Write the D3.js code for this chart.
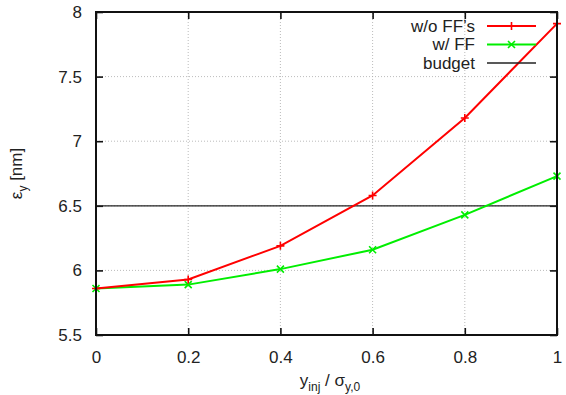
<!DOCTYPE html>
<html>
<head>
<meta charset="utf-8">
<script src="https://cdn.jsdelivr.net/npm/d3@7"></script>
<style>
  body { margin: 0; background: #fff; }
  svg text { font-family: "Liberation Sans", Arial, sans-serif; fill: #222; }
</style>
</head>
<body>
<div id="chart"></div>
<script>
// data
const xValues = [0, 0.2, 0.4, 0.6, 0.8, 1];
const withoutFF = [5.86, 5.93, 6.19, 6.58, 7.18, 7.91];
const withFF = [5.86, 5.89, 6.01, 6.16, 6.43, 6.73];
const budget = 6.5;
const xTicks = [0, 0.2, 0.4, 0.6, 0.8, 1];
const yTicks = [5.5, 6, 6.5, 7, 7.5, 8];

const width = 566, height = 395;
const margin = { left: 96, right: 9, top: 12, bottom: 60 };

const svg = d3.select("#chart").append("svg")
  .attr("width", width)
  .attr("height", height);

const x = d3.scaleLinear().domain([0, 1]).range([margin.left, width - margin.right]);
const y = d3.scaleLinear().domain([5.5, 8]).range([height - margin.bottom, margin.top]);

// grid
svg.append("g").selectAll("line.gx").data(xTicks.slice(1, -1)).enter()
  .append("line")
  .attr("x1", d => x(d)).attr("x2", d => x(d))
  .attr("y1", y(5.5)).attr("y2", y(8))
  .attr("stroke", "#aaa").attr("stroke-width", 0.8).attr("stroke-dasharray", "1,2");
svg.append("g").selectAll("line.gy").data(yTicks.slice(1, -1)).enter()
  .append("line")
  .attr("x1", x(0)).attr("x2", x(1))
  .attr("y1", d => y(d)).attr("y2", d => y(d))
  .attr("stroke", "#aaa").attr("stroke-width", 0.8).attr("stroke-dasharray", "1,2");

// axes with inward ticks, mirrored
const fmt = d => d3.format("")(d);
const axB = svg.append("g").attr("transform", "translate(0," + y(5.5) + ")")
  .call(d3.axisBottom(x).tickValues(xTicks).tickSize(-7).tickPadding(16).tickFormat(fmt));
const axT = svg.append("g").attr("transform", "translate(0," + y(8) + ")")
  .call(d3.axisTop(x).tickValues(xTicks).tickSize(-7).tickFormat(""));
const axL = svg.append("g").attr("transform", "translate(" + x(0) + ",0)")
  .call(d3.axisLeft(y).tickValues(yTicks).tickSize(-7).tickPadding(14).tickFormat(fmt));
const axR = svg.append("g").attr("transform", "translate(" + x(1) + ",0)")
  .call(d3.axisRight(y).tickValues(yTicks).tickSize(-7).tickFormat(""));
[axB, axT, axL, axR].forEach(a => {
  a.select(".domain").remove();
  a.selectAll(".tick line").attr("stroke", "#111").attr("stroke-width", 1.6);
  a.selectAll(".tick text").attr("font-size", 17).attr("fill", "#222")
    .attr("font-family", "Liberation Sans, Arial, sans-serif");
});

// budget line
svg.append("line")
  .attr("x1", x(0)).attr("x2", x(1))
  .attr("y1", y(budget)).attr("y2", y(budget))
  .attr("stroke", "#222").attr("stroke-width", 1.3);

const line = d3.line().x((d, i) => x(xValues[i])).y(d => y(d));

function plus(g, cx, cy, s, color) {
  g.append("path").attr("d", `M${cx - s},${cy}h${2 * s}M${cx},${cy - s}v${2 * s}`)
    .attr("stroke", color).attr("stroke-width", 1.6);
}
function cross(g, cx, cy, s, color) {
  g.append("path").attr("d", `M${cx - s},${cy - s}L${cx + s},${cy + s}M${cx - s},${cy + s}L${cx + s},${cy - s}`)
    .attr("stroke", color).attr("stroke-width", 1.6);
}

svg.append("path").datum(withFF)
  .attr("d", line).attr("fill", "none").attr("stroke", "#00ee00").attr("stroke-width", 2);
const gG = svg.append("g");
withFF.forEach((d, i) => cross(gG, x(xValues[i]), y(d), 3.5, "#00ee00"));

svg.append("path").datum(withoutFF)
  .attr("d", line).attr("fill", "none").attr("stroke", "#ff0000").attr("stroke-width", 2);
const gR = svg.append("g");
withoutFF.forEach((d, i) => plus(gR, x(xValues[i]), y(d), 4, "#ff0000"));

// frame
svg.append("rect")
  .attr("x", x(0)).attr("y", y(8))
  .attr("width", x(1) - x(0)).attr("height", y(5.5) - y(8))
  .attr("fill", "none").attr("stroke", "#111").attr("stroke-width", 2);

// legend
const legend = [
  { label: "w/o FF\u2019s", color: "#ff0000", mark: plus },
  { label: "w/ FF", color: "#00ee00", mark: cross },
  { label: "budget", color: "#222", mark: null }
];
legend.forEach((d, i) => {
  const ly = 26 + i * 18.5;
  svg.append("text").attr("x", 475).attr("y", ly).attr("dy", "0.35em")
    .attr("text-anchor", "end").attr("font-size", 17).text(d.label);
  svg.append("line").attr("x1", 487).attr("x2", 536).attr("y1", ly).attr("y2", ly)
    .attr("stroke", d.color).attr("stroke-width", d.mark ? 2 : 1.3);
  if (d.mark) d.mark(svg, 511.5, ly, d.mark === plus ? 4 : 3.5, d.color);
});

// axis titles
const xt = svg.append("text").attr("x", 330).attr("y", 386)
  .attr("text-anchor", "middle").attr("font-size", 17);
xt.append("tspan").text("y");
xt.append("tspan").attr("dy", 5).attr("font-size", 12).text("inj");
xt.append("tspan").attr("dy", -5).text(" / \u03c3");
xt.append("tspan").attr("dy", 5).attr("font-size", 12).text("y,0");

const yt = svg.append("text")
  .attr("transform", "translate(22," + y(6.75) + ") rotate(-90)")
  .attr("text-anchor", "middle").attr("font-size", 17);
yt.append("tspan").text("\u03b5");
yt.append("tspan").attr("dy", 5).attr("font-size", 12).text("y");
yt.append("tspan").attr("dy", -5).text(" [nm]");
</script>
</body>
</html>
